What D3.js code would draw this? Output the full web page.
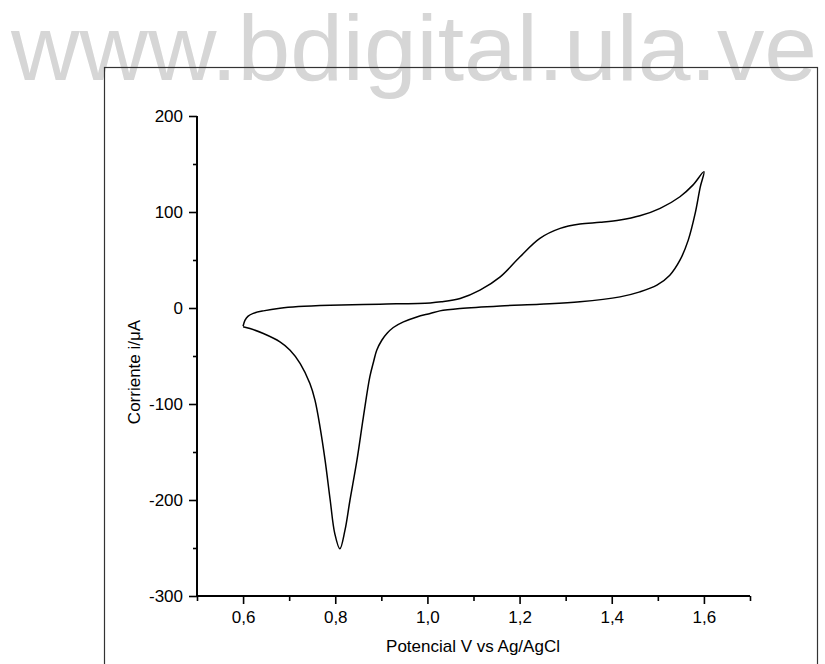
<!DOCTYPE html>
<html>
<head>
<meta charset="utf-8">
<script src="https://cdn.jsdelivr.net/npm/d3@7"></script>
<style>
  html, body { margin: 0; padding: 0; background: #fff; }
  svg { display: block; }
  text { font-family: "Liberation Sans", Arial, sans-serif; }
</style>
</head>
<body>
<svg id="chart" width="825" height="664"></svg>
<script>
// ---- data ----
const forwardV = [0.600, 0.604, 0.611, 0.622, 0.644, 0.680, 0.720, 0.789, 0.897, 1.006, 1.030, 1.071, 1.114, 1.158, 1.201, 1.244, 1.288, 1.331, 1.375, 1.418, 1.461, 1.505, 1.548, 1.576, 1.600];
const forwardI = [-19, -12.8, -8.4, -5.6, -3.0, -0.2, 1.5, 2.9, 4, 5.3, 6.4, 9.9, 18.6, 32.4, 53.3, 72.5, 82.9, 87.4, 89.2, 91.6, 96, 103.8, 115.9, 128, 142];
const reverseV = [1.592, 1.581, 1.566, 1.548, 1.526, 1.498, 1.461, 1.418, 1.331, 1.244, 1.158, 1.071, 1.027, 1.006, 0.977, 0.948, 0.926, 0.912, 0.901, 0.890, 0.883, 0.875, 0.861, 0.847, 0.832, 0.821, 0.810, 0.799, 0.789, 0.778, 0.767, 0.756, 0.745, 0.724, 0.702, 0.680, 0.644, 0.615, 0.600];
const reverseI = [126, 98.5, 70.7, 49.8, 34.2, 23.8, 16.8, 11.6, 6.4, 4, 2.2, -0.5, -3, -5.7, -9.3, -14.5, -20.3, -26.6, -33.6, -44, -56.2, -71.8, -113.6, -158.7, -200, -231.7, -250.8, -235, -200, -158.7, -124, -96, -78.7, -57.9, -44, -35.3, -26.6, -21.4, -19.5];

const xMajorTicks = [0.6, 0.8, 1.0, 1.2, 1.4, 1.6];
const xMinorTicks = [0.5, 0.7, 0.9, 1.1, 1.3, 1.5, 1.7];
const yMajorTicks = [-300, -200, -100, 0, 100, 200];
const yMinorTicks = [-250, -150, -50, 50, 150];

const xTitle = "Potencial V vs Ag/AgCl";
const yTitle = "Corriente i/\u03BCA";
const watermark = "www.bdigital.ula.ve";

// ---- layout ----
const svg = d3.select("#chart");
const x = d3.scaleLinear().domain([0.5, 1.7]).range([197, 750]);
const y = d3.scaleLinear().domain([-300, 200]).range([596, 116]);

// watermark
svg.append("text")
  .attr("x", 11).attr("y", 80)
  .attr("font-size", 93)
  .attr("textLength", 806)
  .attr("lengthAdjust", "spacingAndGlyphs")
  .attr("fill", "#d6d6d6")
  .text(watermark);

// outer frame
svg.append("rect")
  .attr("x", 104.5).attr("y", 67.5)
  .attr("width", 713).attr("height", 700)
  .attr("fill", "none")
  .attr("stroke", "#333")
  .attr("stroke-width", 1.2);

const fmtX = d => d3.format(".1f")(d).replace(".", ",");
const fmtY = d => String(d);

// x axis
const gx = svg.append("g").attr("transform", `translate(0,${y(-300)})`);
gx.call(d3.axisBottom(x).tickValues(xMinorTicks).tickSize(5).tickFormat(""));
gx.append("g").call(d3.axisBottom(x).tickValues(xMajorTicks).tickSize(8).tickPadding(7).tickFormat(fmtX));
gx.selectAll("path.domain").attr("stroke-width", 1.8).attr("d", `M${x(0.5)},0H${x(1.7)}`);

// y axis
const gy = svg.append("g").attr("transform", `translate(${x(0.5)},0)`);
gy.call(d3.axisLeft(y).tickValues(yMinorTicks).tickSize(4).tickFormat(""));
gy.append("g").call(d3.axisLeft(y).tickValues(yMajorTicks).tickSize(8).tickPadding(6).tickFormat(fmtY));
gy.selectAll("path.domain").attr("stroke-width", 1.8).attr("d", `M0,${y(200)}V${y(-300)}`);

svg.selectAll(".tick line").attr("stroke", "#000").attr("stroke-width", 1.6);
svg.selectAll(".tick text").attr("font-size", 17).attr("fill", "#000")
  .style("font-family", "'Liberation Sans', Arial, sans-serif");

// axis titles
svg.append("text")
  .attr("x", 473).attr("y", 652)
  .attr("text-anchor", "middle")
  .attr("font-size", 17)
  .text(xTitle);

svg.append("text")
  .attr("transform", "translate(140,372) rotate(-90)")
  .attr("text-anchor", "middle")
  .attr("font-size", 17)
  .text(yTitle);

// curve
const pts = forwardV.map((v, i) => [v, forwardI[i]])
  .concat(reverseV.map((v, i) => [v, reverseI[i]]));
const line = d3.line()
  .x(d => x(d[0])).y(d => y(d[1]))
  .curve(d3.curveCatmullRom.alpha(0.5));
svg.append("path")
  .attr("d", line(pts))
  .attr("fill", "none")
  .attr("stroke", "#000")
  .attr("stroke-width", 1.5)
  .attr("stroke-linejoin", "round");
</script>
</body>
</html>
